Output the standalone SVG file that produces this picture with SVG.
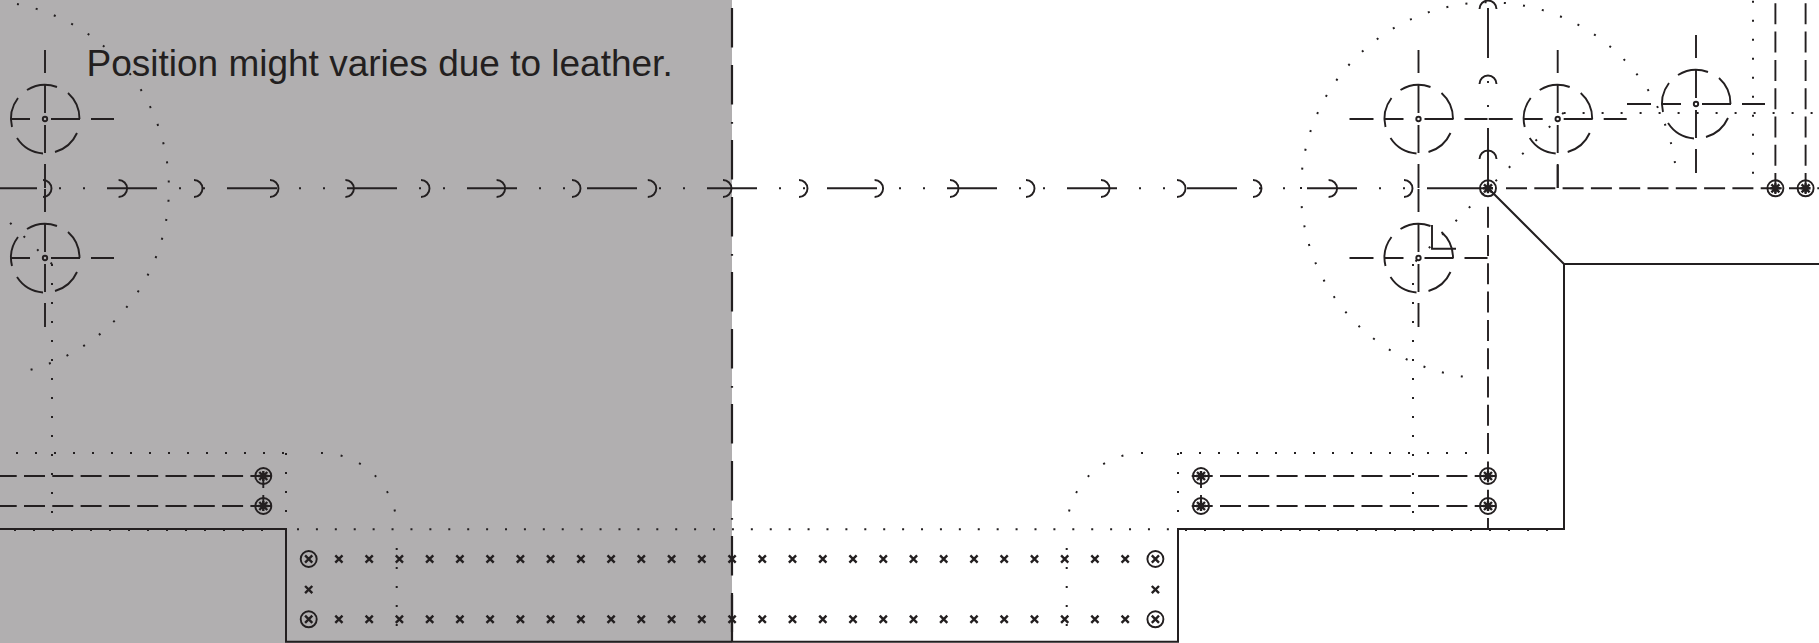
<svg xmlns="http://www.w3.org/2000/svg" width="1819" height="643" viewBox="0 0 1819 643">
<style>
.s{fill:none;stroke:#231f20;stroke-width:1.9}
.o{fill:none;stroke:#231f20;stroke-width:2}
.d{fill:none;stroke:#231f20;stroke-width:1.9;stroke-dasharray:21 7.3}
.t{fill:none;stroke:#231f20;stroke-width:2;stroke-dasharray:2 17}
.m{fill:none;stroke:#231f20;stroke-width:1.9;stroke-dasharray:50 22 2 22 2 22}
.x{fill:none;stroke:#231f20;stroke-width:2.4}
.label{font-family:"Liberation Sans",Arial,sans-serif;font-size:37px;fill:#231f20}
</style>
<defs>
<g id="cross" class="s">
<path d="M-18 -29A34.5 34.5 0 0 1 12 -32M23 -26A34.5 34.5 0 0 1 34.5 0M32 14A34.5 34.5 0 0 1 10 33M-2 34.5A34.5 34.5 0 0 1 -28 19M-33 8A34.5 34.5 0 0 1 -27 -21"/>
<path d="M-34 0H-15M6 0H35M46 0H69M-69 0H-45M0 -69V-46M0 -34V-6M0 6V34M0 45V69"/>
<circle r="2.2"/>
</g>
<path id="x" class="x" d="M-3.6 -3.6L3.6 3.6M3.6 -3.6L-3.6 3.6"/>
<g id="screw"><circle class="s" r="8"/><use href="#x"/></g>
<g id="star"><circle class="s" r="8"/><path class="x" d="M-4 -4L4 4M4 -4L-4 4M0 -5V5M-5 0H5"/></g>
</defs>
<rect id="shade" x="0" y="0" width="732" height="643" fill="#b1afb0"/>
<g id="connectors">
<g id="outline">
<path class="o" d="M0 529H286V641.7H1178V529H1564V264H1819M1564 264L1488 188"/>
</g>
<g id="dots">
<path class="t" d="M1675 163A188 188 0 1 0 1467 377" style="stroke-dasharray:2 17.3"/>
<path class="t" d="M17 4A188 188 0 0 1 17 373" style="stroke-dasharray:2 17.3"/>
<path class="t" d="M52 264V530"/>
<path class="t" d="M1413 264V530"/>
<path class="t" d="M1753 0.7V175"/>
<path class="t" d="M1563.6 113H1819"/>
<path class="t" d="M1563.6 112.7L1413 264" style="stroke-dasharray:2 16.9"/>
<path class="t" d="M52 264L-1 212" style="stroke-dasharray:2 16.9"/>
<path class="t" d="M16 453H301"/>
<path class="t" d="M321 453A76 76 0 0 1 397 529" style="stroke-dasharray:2 17.9"/>
<path class="t" d="M1467 453H1163"/>
<path class="t" d="M1143 453A76 76 0 0 0 1067 529" style="stroke-dasharray:2 17.9"/>
<path class="t" d="M286 453V512"/>
<path class="t" d="M1178 453V512"/>
<path class="t" d="M297 529.2H1170" style="stroke-dasharray:2 16.91"/>
<path class="t" d="M1185 530H1562"/>
<path class="t" d="M14 530H280"/>
<path class="t" d="M396.7 548V643"/>
<path class="t" d="M1066.7 548V643"/>
</g>
<g id="axis">
<path class="m" d="M-13 188.3H1427"/>
<path class="s" d="M1427 188.3H1488M1488 188V128M1488 58V8M1488 81V83M1488 105V107"/>
<path class="s" d="M43 180a8.5 8.5 0 0 1 0 17M118.6 180a8.5 8.5 0 0 1 0 17M194 180a8.5 8.5 0 0 1 0 17M270 180a8.5 8.5 0 0 1 0 17M345.4 180a8.5 8.5 0 0 1 0 17M421 180a8.5 8.5 0 0 1 0 17M496.6 180a8.5 8.5 0 0 1 0 17M572 180a8.5 8.5 0 0 1 0 17M647.8 180a8.5 8.5 0 0 1 0 17M723 180a8.5 8.5 0 0 1 0 17M799 180a8.5 8.5 0 0 1 0 17M874.6 180a8.5 8.5 0 0 1 0 17M950 180a8.5 8.5 0 0 1 0 17M1026 180a8.5 8.5 0 0 1 0 17M1101 180a8.5 8.5 0 0 1 0 17M1177 180a8.5 8.5 0 0 1 0 17M1253 180a8.5 8.5 0 0 1 0 17M1328.6 180a8.5 8.5 0 0 1 0 17M1404 180a8.5 8.5 0 0 1 0 17"/>
<path class="s" d="M1479.5 9a8.5 8.5 0 0 1 17 0M1479.5 84a8.5 8.5 0 0 1 17 0M1479.5 159a8.5 8.5 0 0 1 17 0"/>
</g>
<g id="dashes">
<path class="d" d="M1488 206.7V529"/>
<path class="d" d="M1506 188.3H1819"/>
<path class="d" d="M1775.4 3.3V194"/>
<path class="d" d="M1805.6 3.3V194"/>
<path class="d" d="M-32.6 476H271.4"/>
<path class="d" d="M-32.6 506H271.4"/>
<path class="d" d="M1191.7 476H1496.5"/>
<path class="d" d="M1191.7 506H1496.5"/>
<path class="s" d="M263.3 476V488M263.3 495V506M1201 476V488M1201 495V506"/>
<path class="s" d="M1557.7 188V165"/>
<path class="s" d="M1432 225V248.7H1456"/>
<path class="s" style="stroke-width:2.2;stroke-dasharray:39.5 17.5 39.5 17.5 1.7 16.3" d="M732 8V632"/>
<path class="s" style="stroke-width:2.2" d="M732 595V642"/>
</g>
</g>
<g id="crosshair-1"><use href="#cross" x="45" y="119"/></g>
<g id="crosshair-2"><use href="#cross" x="45" y="258"/></g>
<g id="crosshair-3"><use href="#cross" x="1418.5" y="119"/></g>
<g id="crosshair-4"><use href="#cross" x="1557.7" y="119"/></g>
<g id="crosshair-5"><use href="#cross" x="1696" y="104"/></g>
<g id="crosshair-6"><use href="#cross" x="1418.5" y="258"/></g>
<g id="star-screws">
<use href="#star" x="263.3" y="476"/><use href="#star" x="263.3" y="506"/>
<use href="#star" x="1201" y="476"/><use href="#star" x="1201" y="506"/>
<use href="#star" x="1488" y="476"/><use href="#star" x="1488" y="506"/>
<use href="#star" x="1488" y="188.3"/><use href="#star" x="1775.4" y="188.3"/><use href="#star" x="1805.6" y="188.3"/>
</g>
<g id="corner-screws">
<use href="#screw" x="308.7" y="559"/><use href="#screw" x="308.7" y="619.3"/>
<use href="#screw" x="1155.4" y="559"/><use href="#screw" x="1155.4" y="619.3"/>
</g>
<g id="stitches">
<use href="#x" x="308.7" y="589.6"/><use href="#x" x="1155.4" y="589.6"/>
<use href="#x" x="338.9" y="559"/><use href="#x" x="369.2" y="559"/><use href="#x" x="399.4" y="559"/><use href="#x" x="429.7" y="559"/><use href="#x" x="459.9" y="559"/><use href="#x" x="490.1" y="559"/><use href="#x" x="520.4" y="559"/><use href="#x" x="550.6" y="559"/><use href="#x" x="580.9" y="559"/><use href="#x" x="611.1" y="559"/><use href="#x" x="641.3" y="559"/><use href="#x" x="671.6" y="559"/><use href="#x" x="701.8" y="559"/><use href="#x" x="732.1" y="559"/><use href="#x" x="762.3" y="559"/><use href="#x" x="792.5" y="559"/><use href="#x" x="822.8" y="559"/><use href="#x" x="853" y="559"/><use href="#x" x="883.3" y="559"/><use href="#x" x="913.5" y="559"/><use href="#x" x="943.7" y="559"/><use href="#x" x="974" y="559"/><use href="#x" x="1004.2" y="559"/><use href="#x" x="1034.5" y="559"/><use href="#x" x="1064.7" y="559"/><use href="#x" x="1094.9" y="559"/><use href="#x" x="1125.2" y="559"/>
<use href="#x" x="338.9" y="619.3"/><use href="#x" x="369.2" y="619.3"/><use href="#x" x="399.4" y="619.3"/><use href="#x" x="429.7" y="619.3"/><use href="#x" x="459.9" y="619.3"/><use href="#x" x="490.1" y="619.3"/><use href="#x" x="520.4" y="619.3"/><use href="#x" x="550.6" y="619.3"/><use href="#x" x="580.9" y="619.3"/><use href="#x" x="611.1" y="619.3"/><use href="#x" x="641.3" y="619.3"/><use href="#x" x="671.6" y="619.3"/><use href="#x" x="701.8" y="619.3"/><use href="#x" x="732.1" y="619.3"/><use href="#x" x="762.3" y="619.3"/><use href="#x" x="792.5" y="619.3"/><use href="#x" x="822.8" y="619.3"/><use href="#x" x="853" y="619.3"/><use href="#x" x="883.3" y="619.3"/><use href="#x" x="913.5" y="619.3"/><use href="#x" x="943.7" y="619.3"/><use href="#x" x="974" y="619.3"/><use href="#x" x="1004.2" y="619.3"/><use href="#x" x="1034.5" y="619.3"/><use href="#x" x="1064.7" y="619.3"/><use href="#x" x="1094.9" y="619.3"/><use href="#x" x="1125.2" y="619.3"/>
</g>
<g id="note"><text class="label" x="86.5" y="75.5">Position might varies due to leather.</text></g>
</svg>
